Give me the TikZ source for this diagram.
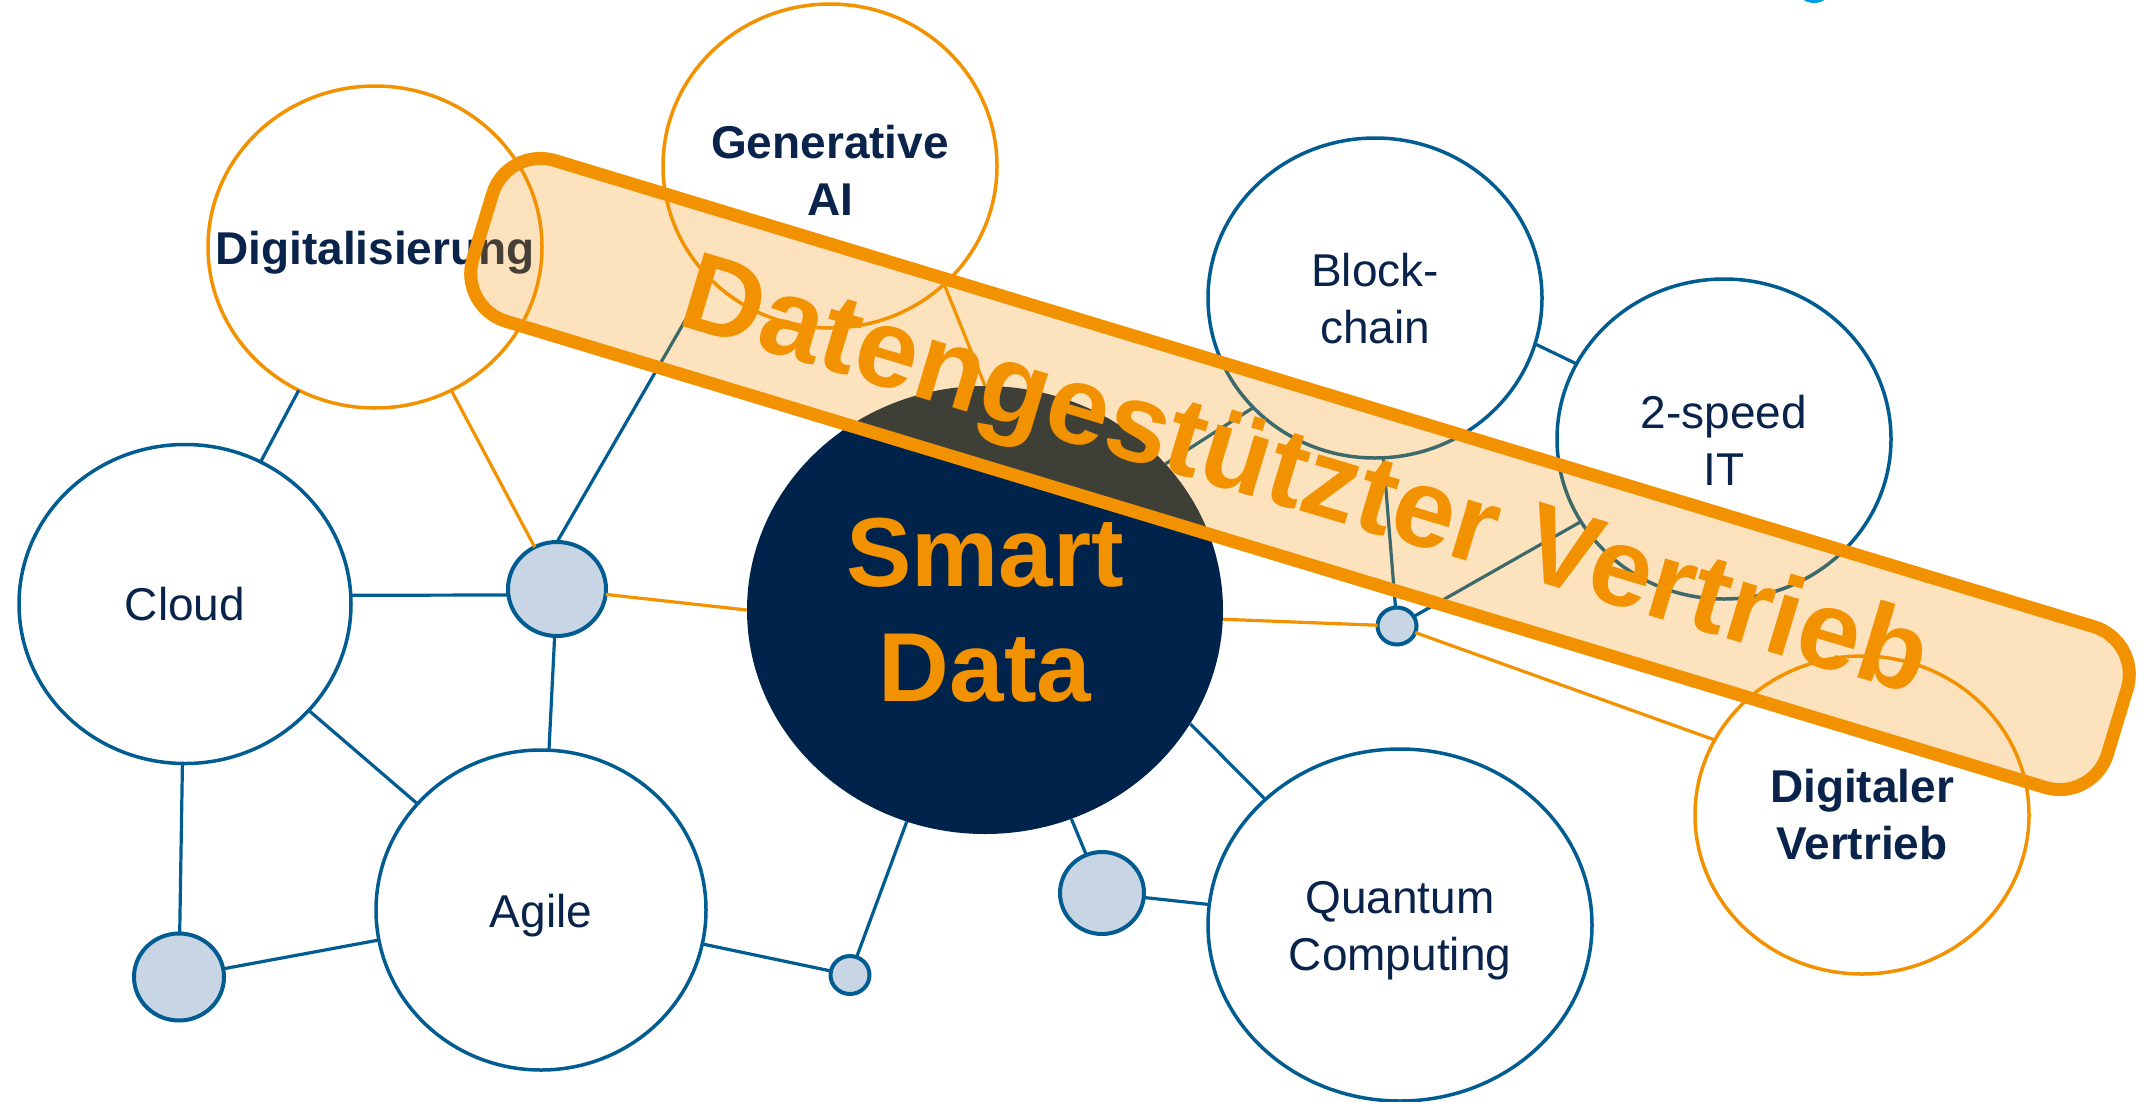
\documentclass[tikz,border=0pt]{standalone}
\usepackage{fontspec}
\setmainfont{Liberation Sans}
\usetikzlibrary{shapes.geometric}
\definecolor{org}{RGB}{243,146,0}
\definecolor{navy}{RGB}{0,35,75}
\definecolor{blu}{RGB}{0,92,145}
\definecolor{lfill}{RGB}{200,213,229}
\definecolor{cyanlogo}{RGB}{0,158,224}
\definecolor{txt}{RGB}{10,35,75}
\begin{document}
\begin{tikzpicture}[x=1pt,y=-1pt,
  bigc/.style={ellipse, draw, fill=white, line width=3.5pt, inner sep=0pt, outer sep=0pt},
  smallc/.style={ellipse, draw=blu, fill=lfill, line width=4pt, inner sep=0pt, outer sep=0pt},
  lbl/.style={text=txt, font=\fontsize{46}{57}\selectfont, align=center, inner sep=0pt},
  lblb/.style={text=txt, font=\fontsize{46}{57}\selectfont\bfseries, align=center, inner sep=0pt},
  bl/.style={draw=blu, line width=3.2pt},
  ol/.style={draw=org, line width=3.2pt},
]
\useasboundingbox (0,0) rectangle (2144,1101);

% logo fragment
\node[ellipse, fill=cyanlogo, minimum width=30pt, minimum height=22pt, inner sep=0pt] (logo) at (1814,-8) {};

% big circles
\node[bigc, draw=org, minimum width=334pt, minimum height=322pt] (dig) at (375,247) {};
\node[bigc, draw=org, minimum width=334pt, minimum height=324pt] (gen) at (830,166) {};
\node[bigc, draw=blu, minimum width=334pt, minimum height=320pt] (blk) at (1375,298) {};
\node[bigc, draw=blu, minimum width=334pt, minimum height=320pt] (spd) at (1724,439) {};
\node[bigc, draw=blu, minimum width=332pt, minimum height=319pt] (cld) at (185,604) {};
\node[bigc, draw=blu, minimum width=330pt, minimum height=320pt] (agl) at (541,910) {};
\node[bigc, draw=blu, minimum width=384pt, minimum height=352pt] (qc) at (1400,925) {};
\node[bigc, draw=org, minimum width=334pt, minimum height=318pt] (dv) at (1862,815) {};
\node[ellipse, fill=navy, minimum width=476pt, minimum height=448pt, inner sep=0pt] (sd) at (985,610) {};

% small circles
\node[smallc, minimum width=98pt, minimum height=94pt] (a) at (557,589) {};
\node[smallc, minimum width=90pt, minimum height=87pt] (b) at (179,977) {};
\node[smallc, minimum width=39pt, minimum height=38pt] (c) at (850,975) {};
\node[smallc, minimum width=84pt, minimum height=82pt] (d) at (1102,893) {};
\node[smallc, minimum width=39pt, minimum height=37pt] (e) at (1397,626) {};

% connectors
\draw[bl] (dig) -- (cld);
\draw[ol] (dig) -- (a);
\draw[bl] (a.north) -- (gen.223);
\draw[ol] (gen.-46) -- (sd.90);
\draw[bl] (cld.3.5) -- (a.187);
\draw[bl] (cld) -- (agl);
\draw[bl] (cld) -- (b);
\draw[ol] (a) -- (sd.180);
\draw[bl] (a) -- (agl);
\draw[bl] (b) -- (agl);
\draw[bl] (agl) -- (c);
\draw[bl] (c) -- (sd);
\draw[bl] (sd) -- (d);
\draw[bl] (d) -- (qc);
\draw[bl] (sd.-29) -- (qc.137);
\draw[ol] (sd) -- (e);
\draw[bl] (blk.222) -- (sd.39);
\draw[bl] (blk.-16) -- (spd.153);
\draw[bl] (e) -- (blk.-87);
\draw[bl] (e) -- (spd.210);
\draw[ol] (e) -- (dv.153);

% labels
\node[lblb] (digt) at (375,253) {Digitalisierung};
\node[lblb] (gent) at (830,170) {Generative\\AI};
\node[lbl] (blkt) at (1375,299) {Block-\\chain};
\node[lbl] (spdt) at (1724,440) {2-speed\\IT};
\node[lbl] (cldt) at (185,604) {Cloud};
\node[lbl] (aglt) at (541,916) {Agile};
\node[lbl] (qct) at (1400,931) {Quantum\\Computing};
\node[lblb] (dvt) at (1862,815) {Digitaler\\Vertrieb};
\node[text=org, font=\fontsize{98}{115}\selectfont\bfseries, align=center, inner sep=0pt] (sdt) at (985,610) {Smart\\Data};

% banner
\node[draw=org, line width=13pt, fill=org, fill opacity=0.26, rounded corners=50pt,
      minimum width=1708pt, minimum height=168pt, rotate=-16.85, inner sep=0pt] (ban) at (1300,474) {};
\node[text=org, font=\fontsize{112}{120}\selectfont\bfseries, rotate=-16.66, anchor=base, inner sep=0pt] (bant) at (1296,510) {Datengestützter Vertrieb};
\end{tikzpicture}
\end{document}
